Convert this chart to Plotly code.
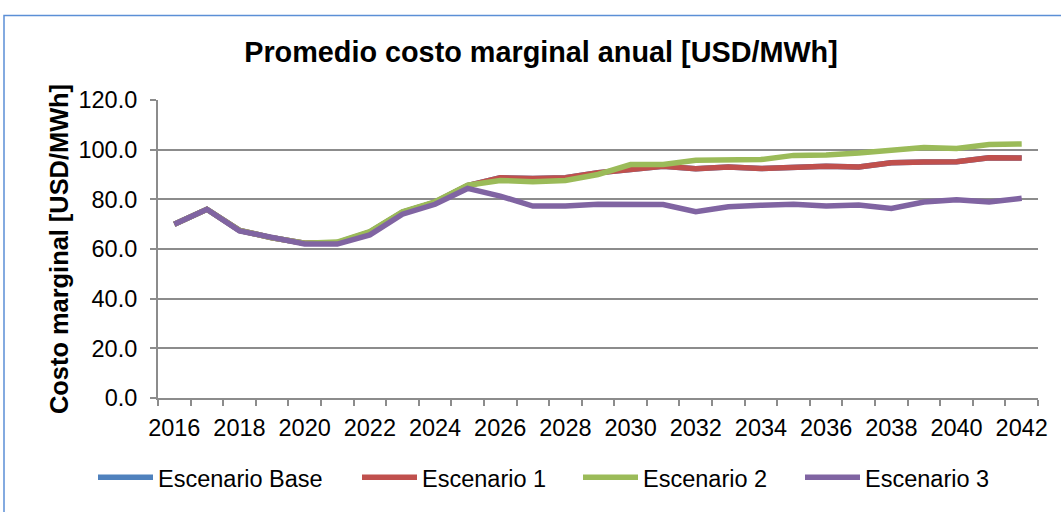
import plotly.graph_objects as go

# Datos
anios = list(range(2016, 2043))
etiquetas_x = list(range(2016, 2043, 2))

esc_base = [70, 76, 67.5, 64.5, 62.3, 62.5, 66.8, 74.8, 78.8, 85.5, 88.7, 88.4, 88.7, 90.7,
            92, 93.3, 92.3, 93, 92.4, 93, 93.3, 93, 94.7, 95, 95.1, 96.7, 96.6]
esc_1 = [70, 76, 67.5, 64.5, 62.3, 62.5, 66.8, 74.8, 78.8, 85.5, 88.7, 88.4, 88.7, 90.7,
         92, 93.3, 92.3, 93, 92.4, 93, 93.3, 93, 94.7, 95, 95.1, 96.7, 96.6]
esc_2 = [70, 76, 67.5, 64.5, 62.3, 62.8, 67, 75, 79, 85.7, 87.6, 87.1, 87.6, 90,
         94, 94, 95.7, 96, 96, 97.7, 97.9, 98.7, 100, 100.9, 100.5, 102.1, 102.3]
esc_3 = [70, 76, 67.3, 64.4, 62, 62, 65.7, 74, 78, 84.4, 81.3, 77.3, 77.3, 78,
         77.9, 77.9, 75, 77, 77.6, 78, 77.3, 77.7, 76.3, 78.9, 79.8, 78.9, 80.4]

series = [("Escenario Base", esc_base, "#4F81BD"),
          ("Escenario 1", esc_1, "#C0504D"),
          ("Escenario 2", esc_2, "#9BBB59"),
          ("Escenario 3", esc_3, "#8064A2")]

fuente = "Liberation Sans, Arial, sans-serif"
gris = "#8c8c8c"

# cada serie en su propia leyenda para fijar la posicion (px del borde izquierdo)
pos_leyenda = [93, 357, 578, 800]
ids_leyenda = ["legend", "legend2", "legend3", "legend4"]

fig = go.Figure()
for (nombre, valores, color), lid in zip(series, ids_leyenda):
    fig.add_trace(go.Scatter(x=anios, y=valores, name=nombre, mode="lines",
                             line=dict(color=color, width=5.5), legend=lid))

fig.update_layout(
    width=1061, height=512,
    margin=dict(l=158, r=23, t=100, b=112),
    paper_bgcolor="white", plot_bgcolor="white",
    font=dict(family=fuente, size=23.5, color="black"),
    title=dict(text="<b>Promedio costo marginal anual [USD/MWh]</b>",
               x=541 / 1061, xanchor="center", y=1 - 52 / 512, yanchor="middle",
               font=dict(size=28.8, family=fuente, color="black")),
    showlegend=True,
)
for lid, px in zip(ids_leyenda, pos_leyenda):
    fig.update_layout({lid: dict(orientation="h", x=(px - 158) / 880, xanchor="left",
                                 y=-0.267, yanchor="middle", bgcolor="rgba(0,0,0,0)",
                                 font=dict(size=23.5, family=fuente), itemwidth=55)})

fig.update_xaxes(range=[2015.5, 2042.5], tickvals=etiquetas_x,
                 ticks="outside", ticklen=8, tickcolor="rgba(0,0,0,0)",
                 showgrid=False, zeroline=False,
                 showline=True, linecolor=gris, linewidth=2,
                 minor=dict(tickmode="linear", tick0=2015.5, dtick=1, ticks="outside",
                            ticklen=6, tickcolor=gris, tickwidth=1.5, showgrid=False))

fig.update_yaxes(range=[0, 120], dtick=20, tickformat=".1f",
                 ticks="outside", ticklen=6, tickcolor=gris, tickwidth=1.5,
                 showgrid=True, gridcolor=gris, gridwidth=1.5, zeroline=False,
                 showline=True, linecolor=gris, linewidth=2, ticklabelstandoff=8)

# Titulo del eje Y
fig.add_annotation(text="<b>Costo marginal [USD/MWh]</b>", xref="paper", yref="paper",
                   x=(59 - 158) / 880, y=0.5, xanchor="center", yanchor="middle",
                   textangle=-90, showarrow=False, font=dict(size=25.4, family=fuente))

# Borde del area del grafico
fig.add_shape(type="rect", xref="paper", yref="paper",
              x0=(4 - 158) / 880, x1=(1075 - 158) / 880,
              y0=(400 - 530) / 300, y1=(400 - 15) / 300,
              line=dict(color="#5B8FD6", width=1.5), layer="below")

fig.write_html("out.html", config={"displayModeBar": False},
               post_script="document.body.style.margin='0';")
